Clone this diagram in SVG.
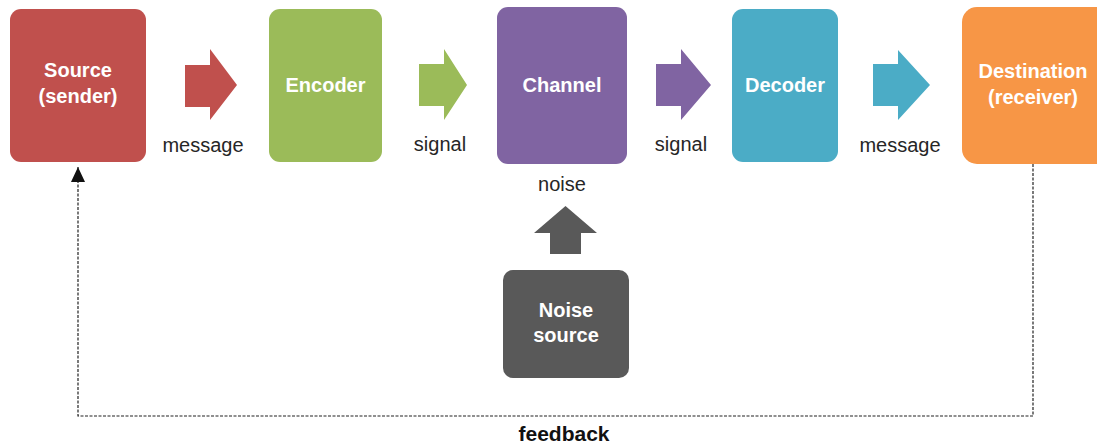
<svg xmlns="http://www.w3.org/2000/svg" width="1097" height="445" viewBox="0 0 1097 445">
<style>
.box{stroke:none}
.t{font-family:"Liberation Sans",Arial,sans-serif;font-weight:bold;font-size:20px;fill:#fff;text-anchor:middle}
.l{font-family:"Liberation Sans",Arial,sans-serif;font-size:20px;fill:#262626;text-anchor:middle}
.fb{font-family:"Liberation Sans",Arial,sans-serif;font-weight:bold;font-size:21px;fill:#111;text-anchor:middle}
.dash{fill:none;stroke:#222;stroke-width:1.2;stroke-dasharray:3,1.5}
</style>
<defs>
<marker id="ah" viewBox="0 0 15 14" refX="15" refY="7" markerWidth="15" markerHeight="14" markerUnits="userSpaceOnUse" orient="auto">
<path d="M0,0 L15,7 L0,14 Z" fill="#111"/>
</marker>
</defs>
<rect width="1097" height="445" fill="#fff"/>
<g id="source">
<rect class="box" x="10" y="9" width="136" height="153" rx="11" fill="#C0504D"/>
<text class="t" x="78" y="77">Source</text>
<text class="t" x="78" y="103">(sender)</text>
</g>
<g id="encoder">
<rect class="box" x="269" y="9" width="113" height="153" rx="11" fill="#9BBB59"/>
<text class="t" x="325.5" y="92">Encoder</text>
</g>
<g id="channel">
<rect class="box" x="497" y="7" width="130" height="157" rx="11" fill="#8064A2"/>
<text class="t" x="562" y="92">Channel</text>
</g>
<g id="decoder">
<rect class="box" x="732" y="9" width="106" height="153" rx="11" fill="#4BACC6"/>
<text class="t" x="785" y="92">Decoder</text>
</g>
<g id="destination">
<rect class="box" x="962" y="7" width="160" height="157" rx="15" fill="#F79646"/>
<text class="t" x="1033" y="78">Destination</text>
<text class="t" x="1033" y="104">(receiver)</text>
</g>
<g id="noise-source">
<rect class="box" x="503" y="270" width="126" height="108" rx="10" fill="#595959"/>
<text class="t" x="566" y="317">Noise</text>
<text class="t" x="566" y="342">source</text>
</g>
<g id="connectors">
<path d="M185,65 H210 V49 L237,85 L210,120 V107 H185 Z" fill="#C0504D"/>
<text class="l" x="203" y="152">message</text>
<path d="M419,64 H444 V49 L467,85 L444,120 V106 H419 Z" fill="#9BBB59"/>
<text class="l" x="440" y="151">signal</text>
<path d="M656,64 H681 V49 L711,85 L681,120 V106 H656 Z" fill="#8064A2"/>
<text class="l" x="681" y="151">signal</text>
<path d="M873,64 H898 V50 L930,85 L898,120 V106 H873 Z" fill="#4BACC6"/>
<text class="l" x="900" y="152">message</text>
<path d="M550,254 V233 H534 L565.5,206 L597,233 H581 V254 Z" fill="#595959"/>
<text class="l" x="562" y="191">noise</text>
<path class="dash" d="M1033,164 V416 H78 V167" marker-end="url(#ah)"/>
<text class="fb" x="564" y="441">feedback</text>
</g>
</svg>
